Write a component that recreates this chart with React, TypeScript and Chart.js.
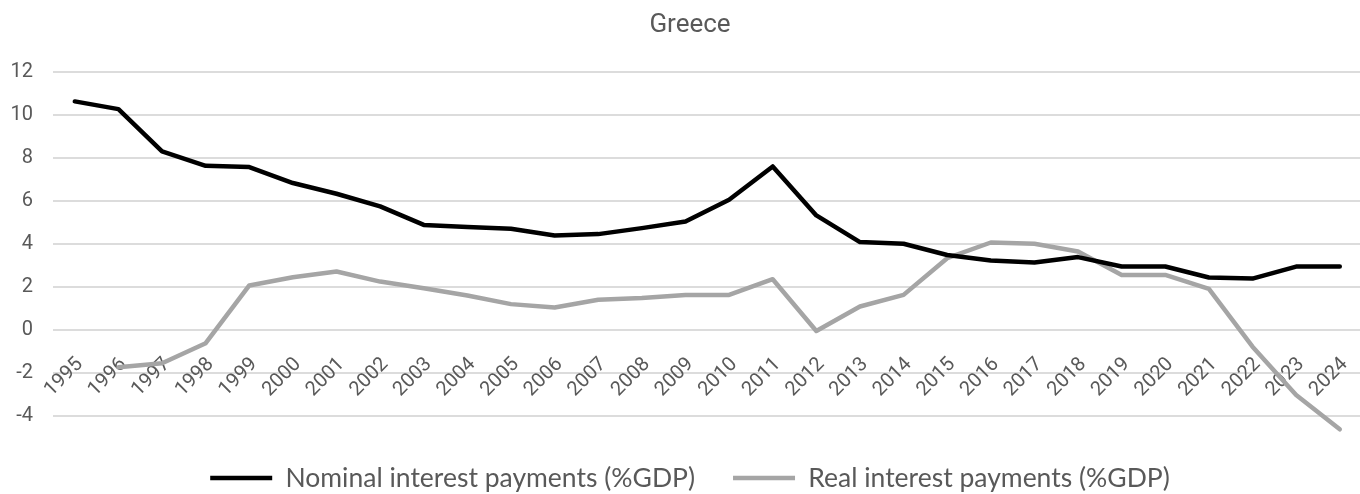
import React, { useEffect, useRef } from 'react';
import { Chart, registerables } from 'chart.js';

Chart.register(...registerables);

const years = [
  '1995', '1996', '1997', '1998', '1999', '2000', '2001', '2002', '2003', '2004',
  '2005', '2006', '2007', '2008', '2009', '2010', '2011', '2012', '2013', '2014',
  '2015', '2016', '2017', '2018', '2019', '2020', '2021', '2022', '2023', '2024',
];

const nominal = [
  10.64, 10.28, 8.31, 7.64, 7.58, 6.84, 6.34, 5.75, 4.89, 4.79,
  4.71, 4.40, 4.46, 4.74, 5.05, 6.06, 7.61, 5.33, 4.09, 4.01,
  3.49, 3.23, 3.14, 3.39, 2.95, 2.95, 2.44, 2.39, 2.95, 2.95,
];

const real = [
  null, -1.74, -1.55, -0.62, 2.07, 2.45, 2.72, 2.25, 1.94, 1.60,
  1.20, 1.04, 1.40, 1.48, 1.63, 1.63, 2.36, -0.05, 1.09, 1.63,
  3.34, 4.07, 4.01, 3.65, 2.56, 2.56, 1.91, -0.78, -3.03, -4.63,
];

const seriesNames = ['Nominal interest payments (%GDP)', 'Real interest payments (%GDP)'];
const titleText = 'Greece';
const yMin = -4;
const yMax = 12;
const yStep = 2;

const TEXT = '#595959';

const legendShift = {
  id: 'legendShift',
  afterLayout(chart: any) {
    const l = chart.legend;
    if (l) {
      l.top += 11;
      l.bottom += 11;
    }
  },
};

export default function App() {
  const ref = useRef<HTMLCanvasElement | null>(null);

  useEffect(() => {
    document.body.style.margin = '0';
    document.body.style.overflow = 'hidden';
    if (!ref.current) return;
    const chart = new Chart(ref.current, {
      type: 'line',
      data: {
        labels: years,
        datasets: [
          {
            label: seriesNames[0],
            data: nominal,
            borderColor: '#000000',
            backgroundColor: '#000000',
            borderWidth: 4.5,
            pointRadius: 0,
            pointHoverRadius: 0,
            borderCapStyle: 'round',
            borderJoinStyle: 'round',
            tension: 0,
            clip: false,
          },
          {
            label: seriesNames[1],
            data: real,
            borderColor: '#a5a5a5',
            backgroundColor: '#a5a5a5',
            borderWidth: 4.5,
            pointRadius: 0,
            pointHoverRadius: 0,
            borderCapStyle: 'round',
            borderJoinStyle: 'round',
            tension: 0,
            clip: false,
          },
        ],
      },
      options: {
        animation: false,
        responsive: true,
        maintainAspectRatio: false,
        events: [],
        layout: { padding: { left: 0, right: 0, top: 0, bottom: 3.7 } },
        plugins: {
          title: {
            display: true,
            text: titleText,
            color: TEXT,
            font: { family: 'Roboto', size: 26, weight: 'normal' },
            padding: { top: 10, bottom: 31 },
          },
          legend: {
            display: true,
            position: 'bottom',
            labels: {
              usePointStyle: true,
              pointStyle: 'line',
              pointStyleWidth: 62,
              color: TEXT,
              padding: 38,
              font: { family: 'Lato', size: 26.5 },
            },
          },
          tooltip: { enabled: false },
        },
        scales: {
          x: {
            type: 'category',
            offset: true,
            position: { y: 0 } as any,
            grid: { display: false, drawTicks: false },
            border: { display: false },
            ticks: {
              autoSkip: false,
              minRotation: 45,
              maxRotation: 45,
              padding: 23,
              labelOffset: 5,
              color: TEXT,
              font: { family: 'Roboto', size: 20 },
            },
          },
          y: {
            type: 'linear',
            position: 'left',
            min: yMin,
            max: yMax,
            afterFit: (s: any) => {
              s.width = 53;
            },
            grid: { color: '#dcdcdc', lineWidth: 2, drawTicks: false },
            border: { display: false },
            ticks: {
              stepSize: yStep,
              padding: 20,
              color: TEXT,
              font: { family: 'Roboto', size: 20 },
            },
          },
          y2: {
            type: 'linear',
            position: 'right',
            display: true,
            afterFit: (s: any) => {
              s.width = 16;
            },
            grid: { display: false, drawTicks: false },
            border: { display: false },
            ticks: { display: false },
          },
        },
      },
      plugins: [legendShift],
    });
    return () => chart.destroy();
  }, []);

  return (
    <div style={{ position: 'relative', width: '1380px', height: '494px' }}>
      <canvas ref={ref} />
    </div>
  );
}
